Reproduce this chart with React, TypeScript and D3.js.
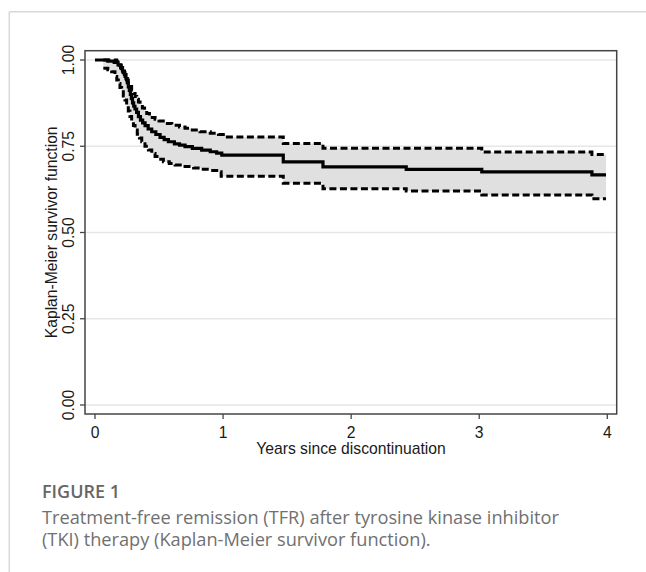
import React from "react";
import * as d3 from "d3";

// Kaplan-Meier estimate (time in years, survival)
const kmTimes = [0, 0.1, 0.15, 0.18, 0.2, 0.215, 0.23, 0.242, 0.252, 0.26, 0.268, 0.276, 0.284, 0.293, 0.302, 0.312, 0.325, 0.339, 0.355, 0.372, 0.391, 0.415, 0.443, 0.475, 0.508, 0.54, 0.573, 0.62, 0.66, 0.703, 0.76, 0.833, 0.9, 0.95, 0.99, 1.47, 1.78, 2.43, 3.02, 3.88, 3.99];
const kmSurv = [1.0, 0.997, 0.993, 0.986, 0.978, 0.968, 0.958, 0.946, 0.934, 0.922, 0.912, 0.9, 0.888, 0.876, 0.866, 0.858, 0.848, 0.836, 0.826, 0.818, 0.81, 0.8, 0.792, 0.784, 0.776, 0.769, 0.763, 0.757, 0.753, 0.749, 0.744, 0.739, 0.734, 0.73, 0.724, 0.705, 0.69, 0.683, 0.676, 0.667, 0.667];

const upperTimes = [0.065, 0.17, 0.19, 0.205, 0.22, 0.234, 0.247, 0.26, 0.273, 0.286, 0.3, 0.313, 0.326, 0.339, 0.352, 0.37, 0.387, 0.404, 0.425, 0.447, 0.469, 0.5, 0.547, 0.6, 0.66, 0.703, 0.76, 0.82, 0.9, 0.964, 1.02, 1.47, 1.78, 3.02, 3.88, 3.99];
const upperSurv = [1.0, 0.995, 0.985, 0.975, 0.963, 0.952, 0.942, 0.932, 0.923, 0.913, 0.903, 0.894, 0.886, 0.878, 0.87, 0.861, 0.853, 0.845, 0.839, 0.833, 0.828, 0.823, 0.816, 0.811, 0.806, 0.802, 0.797, 0.792, 0.788, 0.784, 0.777, 0.758, 0.744, 0.733, 0.726, 0.726];

const lowerTimes = [0.065, 0.1, 0.13, 0.156, 0.17, 0.182, 0.195, 0.208, 0.221, 0.234, 0.247, 0.26, 0.273, 0.286, 0.3, 0.313, 0.33, 0.347, 0.365, 0.39, 0.417, 0.443, 0.469, 0.5, 0.534, 0.58, 0.625, 0.703, 0.77, 0.833, 0.9, 0.964, 0.985, 1.47, 1.78, 2.43, 3.02, 3.88, 3.99];
const lowerSurv = [0.976, 0.972, 0.966, 0.952, 0.942, 0.932, 0.92, 0.908, 0.896, 0.884, 0.868, 0.852, 0.836, 0.823, 0.81, 0.797, 0.785, 0.774, 0.763, 0.75, 0.739, 0.729, 0.72, 0.712, 0.705, 0.7, 0.696, 0.691, 0.687, 0.683, 0.68, 0.676, 0.663, 0.643, 0.627, 0.62, 0.609, 0.598, 0.598];

const xTicks = [0, 1, 2, 3, 4];
const yTicks = [0, 0.25, 0.5, 0.75, 1];
const yTickLabels = ["0.00", "0.25", "0.50", "0.75", "1.00"];

const xTitle = "Years since discontinuation";
const yTitle = "Kaplan-Meier survivor function";
const figLabel = "FIGURE 1";
const captionLines = [
  "Treatment-free remission (TFR) after tyrosine kinase inhibitor",
  "(TKI) therapy (Kaplan-Meier survivor function).",
];

type Pt = [number, number];
const zip = (t: number[], s: number[]): Pt[] => t.map((v, i) => [v, s[i]]);

export default function App() {
  const W = 646;
  const H = 572;
  const x = d3.scaleLinear().domain([0, 4]).range([95, 607.3]);
  const y = d3.scaleLinear().domain([0, 1]).range([405, 60]);
  const frame = { x0: 85, x1: 616.7, y0: 50.7, y1: 414 };

  const km = zip(kmTimes, kmSurv);
  const up = zip(upperTimes, upperSurv);
  const lo = zip(lowerTimes, lowerSurv);

  const allT = Array.from(new Set([...upperTimes, ...lowerTimes])).sort((a, b) => a - b);
  const stepVal = (ts: number[], ss: number[], t: number) => {
    let v = ss[0];
    for (let i = 0; i < ts.length; i++) if (ts[i] <= t) v = ss[i];
    return v;
  };
  const band = allT.map((t) => ({ t, lo: stepVal(lowerTimes, lowerSurv, t), hi: stepVal(upperTimes, upperSurv, t) }));

  const line = d3
    .line<Pt>()
    .x((d) => x(d[0]))
    .y((d) => y(d[1]))
    .curve(d3.curveStepAfter);
  const area = d3
    .area<{ t: number; lo: number; hi: number }>()
    .x((d) => x(d.t))
    .y0((d) => y(d.lo))
    .y1((d) => y(d.hi))
    .curve(d3.curveStepAfter);

  const axisFont = "'Liberation Sans', Arial, sans-serif";
  const capFont = "'Open Sans', 'Noto Sans', sans-serif";
  const fs = 15.7;

  return (
    <svg width={W} height={H} style={{ position: "absolute", left: 0, top: 0, background: "#fff" }}>
      {/* card border */}
      <line x1={9.3} y1={11.7} x2={W} y2={11.7} stroke="#d8d8d8" strokeWidth={1.5} />
      <line x1={9.3} y1={11.7} x2={9.3} y2={H} stroke="#d8d8d8" strokeWidth={1.5} />

      {/* gridlines */}
      {yTicks.map((t) => (
        <line key={"g" + t} x1={frame.x0} x2={frame.x1} y1={y(t)} y2={y(t)} stroke="#e6e6e6" strokeWidth={1.5} />
      ))}

      {/* CI band */}
      <path d={area(band) || ""} fill="#e0e0e0" stroke="none" />

      {/* CI lines */}
      <path d={line(up) || ""} fill="none" stroke="#000" strokeWidth={3} strokeDasharray="7 3.5" />
      <path d={line(lo) || ""} fill="none" stroke="#000" strokeWidth={3} strokeDasharray="7 3.5" />
      {/* KM line */}
      <path d={line(km) || ""} fill="none" stroke="#000" strokeWidth={3.2} />

      {/* frame */}
      <rect x={frame.x0} y={frame.y0} width={frame.x1 - frame.x0} height={frame.y1 - frame.y0} fill="none" stroke="#444" strokeWidth={1.5} />

      {/* y ticks */}
      {yTicks.map((t, i) => (
        <g key={"y" + t}>
          <line x1={frame.x0 - 5} x2={frame.x0} y1={y(t)} y2={y(t)} stroke="#444" strokeWidth={1.3} />
          <text
            transform={`translate(74,${y(t)}) rotate(-90)`}
            textAnchor="middle"
            fontFamily={axisFont}
            fontSize={fs}
            fill="#1a1a1a"
          >
            {yTickLabels[i]}
          </text>
        </g>
      ))}

      {/* x ticks */}
      {xTicks.map((t) => (
        <g key={"x" + t}>
          <line x1={x(t)} x2={x(t)} y1={frame.y1} y2={frame.y1 + 5} stroke="#444" strokeWidth={1.3} />
          <text x={x(t)} y={438} textAnchor="middle" fontFamily={axisFont} fontSize={fs} fill="#1a1a1a">
            {t}
          </text>
        </g>
      ))}

      {/* axis titles */}
      <text x={351} y={454} textAnchor="middle" fontFamily={axisFont} fontSize={fs} fill="#1a1a1a">
        {xTitle}
      </text>
      <text
        transform={`translate(57,${(frame.y0 + frame.y1) / 2}) rotate(-90)`}
        textAnchor="middle"
        fontFamily={axisFont}
        fontSize={fs}
        fill="#1a1a1a"
      >
        {yTitle}
      </text>

      {/* caption */}
      <text x={42} y={497.5} fontFamily={capFont} fontSize={18} fontWeight={600} fill="#666">
        {figLabel}
      </text>
      {captionLines.map((l, i) => (
        <text key={i} x={42} y={524 + i * 22} fontFamily={capFont} fontSize={18.2} fill="#707070">
          {l}
        </text>
      ))}
    </svg>
  );
}
